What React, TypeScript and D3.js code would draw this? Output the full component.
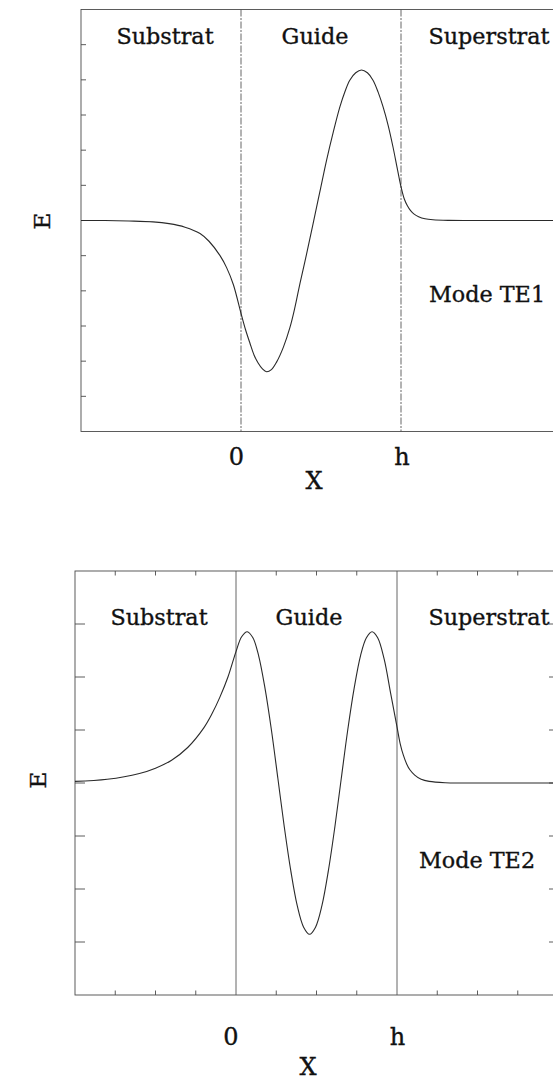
import React from "react";
import * as d3 from "d3";

// Field profile E(x) of the guided modes across substrate / guide / superstrate.
// x is expressed in units of the guide thickness h (0 = substrate interface, 1 = h).
const regionLabels = ["Substrat", "Guide", "Superstrat"];

const te1X = [
  -1, -0.85, -0.7, -0.55, -0.45, -0.35, -0.256, -0.2, -0.131, -0.09, -0.048, 0,
  0.028, 0.056, 0.082, 0.108, 0.134, 0.16, 0.19, 0.223, 0.265, 0.306, 0.337,
  0.368, 0.41, 0.451, 0.493, 0.535, 0.577, 0.618, 0.65, 0.68, 0.717, 0.753,
  0.79, 0.825, 0.857, 0.888, 0.92, 0.95, 0.975, 1.0, 1.02, 1.04, 1.06, 1.08,
  1.11, 1.15, 1.2, 1.3, 1.45, 2,
];
const te1E = [
  0, 0, -0.014, -0.04, -0.09, -0.19, -0.37, -0.59, -1.0, -1.34, -1.82, -2.64,
  -3.1, -3.49, -3.83, -4.06, -4.22, -4.3, -4.24, -4.02, -3.6, -3.04, -2.47,
  -1.8, -0.95, -0.08, 0.82, 1.72, 2.52, 3.23, 3.67, 3.99, 4.2, 4.28,
  4.2, 3.99, 3.65, 3.23, 2.7, 2.09, 1.52, 0.96, 0.62, 0.42, 0.28, 0.19,
  0.11, 0.05, 0.02, 0.003, 0, 0,
];

const te2X = [
  -1, -0.8, -0.6, -0.5, -0.4, -0.3, -0.2, -0.15, -0.1, -0.05, 0,
  0.035, 0.07, 0.105, 0.14, 0.18, 0.22, 0.26, 0.3, 0.34, 0.38, 0.42, 0.457,
  0.494, 0.534, 0.574, 0.614, 0.654, 0.694, 0.734, 0.774, 0.81, 0.845, 0.88,
  0.92, 0.96, 0.98, 1.0, 1.02, 1.04, 1.06, 1.08, 1.11, 1.15, 1.2, 1.3, 1.4, 2,
];
const te2E = [
  0.03, 0.07, 0.18, 0.28, 0.43, 0.67, 1.04, 1.3, 1.62, 2.0, 2.48,
  2.76, 2.855, 2.74, 2.41, 1.79, 1.0, 0.09, -0.83, -1.65, -2.31, -2.72, -2.855,
  -2.72, -2.31, -1.65, -0.83, 0.09, 1.0, 1.79, 2.41, 2.74, 2.855, 2.74,
  2.34, 1.7, 1.38, 1.06, 0.74, 0.52, 0.36, 0.25, 0.15, 0.07, 0.03, 0.005, 0, 0,
];

const yTicksTE1 = [-5, -4, -3, -2, -1, 0, 1, 2, 3, 4, 5];
const yTicksTE2 = [-3, -2, -1, 0, 1, 2, 3];
const xTicksTE2 = [-0.75, -0.5, -0.25, 0.25, 0.5, 0.75, 1.25, 1.5, 1.75];
const xTickLabels = ["0", "h"];

const FONT = "'DejaVu Serif', 'Liberation Serif', serif";
const INK = "#111";

type PanelProps = {
  id: string;
  xs: number[];
  es: number[];
  left: number;
  right: number;
  top: number;
  bottom: number;
  yMax: number;
  yTicks: number[];
  xTicks: number[];
  leftTick: number;
  rightTick: number;
  edgeTick: number;
  dashed: boolean;
  regionY: number;
  regionX: number[];
  mode: string;
  modeX: number;
  modeY: number;
  eLabelX: number;
  eLabelY: number;
  tickLabelX: number[];
  tickLabelY: number;
  xTitleX: number;
  xTitleY: number;
};

const labelStyle = {
  fontFamily: FONT,
  fill: INK,
  stroke: INK,
  strokeWidth: 0.35,
};

function Panel(p: PanelProps) {
  const x = d3.scaleLinear().domain([-1, 2]).range([p.left, p.right]);
  const y = d3.scaleLinear().domain([-p.yMax, p.yMax]).range([p.bottom, p.top]);
  const pts: [number, number][] = p.xs.map((v, i) => [v, p.es[i]]);
  const line = d3
    .line<[number, number]>()
    .x((d) => x(d[0]))
    .y((d) => y(d[1]))
    .curve(d3.curveCatmullRom.alpha(0.5));
  const frameColor = "#4a4a4a";
  const dash = p.dashed ? "7 1.5 2 1.5" : undefined;
  return (
    <g>
      <defs>
        <clipPath id={p.id}>
          <rect x={p.left} y={p.top} width={p.right - p.left} height={p.bottom - p.top} />
        </clipPath>
      </defs>
      {/* frame */}
      <rect
        x={p.left}
        y={p.top}
        width={p.right - p.left}
        height={p.bottom - p.top}
        fill="none"
        stroke={frameColor}
        strokeWidth={0.9}
      />
      {/* y ticks */}
      {p.yTicks.map((t) => (
        <g key={"y" + t}>
          <line x1={p.left} x2={p.left + p.leftTick} y1={y(t)} y2={y(t)} stroke={frameColor} strokeWidth={0.9} />
          {p.rightTick > 0 && (
            <line x1={p.right} x2={p.right - p.rightTick} y1={y(t)} y2={y(t)} stroke={frameColor} strokeWidth={0.9} />
          )}
        </g>
      ))}
      {/* x ticks along top and bottom edges */}
      {p.xTicks.map((t) => (
        <g key={"x" + t}>
          <line x1={x(t)} x2={x(t)} y1={p.bottom} y2={p.bottom - p.edgeTick} stroke={frameColor} strokeWidth={0.9} />
          <line x1={x(t)} x2={x(t)} y1={p.top} y2={p.top + p.edgeTick} stroke={frameColor} strokeWidth={0.9} />
        </g>
      ))}
      {/* interfaces at x = 0 and x = h */}
      {[0, 1].map((v) => (
        <line
          key={"v" + v}
          x1={x(v)}
          x2={x(v)}
          y1={p.top}
          y2={p.bottom}
          stroke="#555"
          strokeWidth={0.9}
          strokeDasharray={dash}
        />
      ))}
      {/* field profile */}
      <path d={line(pts) || ""} fill="none" stroke="#2a2a2a" strokeWidth={1.1} clipPath={`url(#${p.id})`} />
      {/* region names */}
      {regionLabels.map((r, i) => (
        <text key={r} x={p.regionX[i]} y={p.regionY} textAnchor="middle" fontSize={22.3} {...labelStyle}>
          {r}
        </text>
      ))}
      <text x={p.modeX} y={p.modeY} textAnchor="middle" fontSize={22.3} {...labelStyle}>
        {p.mode}
      </text>
      <text
        x={p.eLabelX}
        y={p.eLabelY}
        textAnchor="middle"
        dominantBaseline="central"
        transform={`rotate(-90 ${p.eLabelX} ${p.eLabelY})`}
        fontSize={23}
        {...labelStyle}
      >
        E
      </text>
      {xTickLabels.map((l, i) => (
        <text key={l} x={p.tickLabelX[i]} y={p.tickLabelY} textAnchor="middle" fontSize={24} {...labelStyle}>
          {l}
        </text>
      ))}
      <text x={p.xTitleX} y={p.xTitleY} textAnchor="middle" fontSize={24} {...labelStyle}>
        X
      </text>
    </g>
  );
}

export default function App() {
  return (
    <svg
      width={553}
      height={1081}
      viewBox="0 0 553 1081"
      style={{ position: "absolute", left: 0, top: 0, background: "#fff" }}
    >
      <rect x={0} y={0} width={553} height={1081} fill="#fff" />
      <Panel
        id="clip-te1"
        xs={te1X}
        es={te1E}
        left={81}
        right={561}
        top={9.5}
        bottom={431.5}
        yMax={6}
        yTicks={yTicksTE1}
        xTicks={[]}
        leftTick={5}
        rightTick={0}
        edgeTick={0}
        dashed={true}
        regionY={44}
        regionX={[165, 315, 489]}
        mode="Mode TE1"
        modeX={487}
        modeY={302}
        eLabelX={42}
        eLabelY={221}
        tickLabelX={[236.5, 402]}
        tickLabelY={465}
        xTitleX={314}
        xTitleY={489}
      />
      <Panel
        id="clip-te2"
        xs={te2X}
        es={te2E}
        left={75}
        right={558}
        top={571}
        bottom={995}
        yMax={4}
        yTicks={yTicksTE2}
        xTicks={xTicksTE2}
        leftTick={10}
        rightTick={9}
        edgeTick={4.5}
        dashed={false}
        regionY={625}
        regionX={[159, 309, 489]}
        mode="Mode TE2"
        modeX={477}
        modeY={868}
        eLabelX={38}
        eLabelY={780}
        tickLabelX={[231, 397.5]}
        tickLabelY={1045}
        xTitleX={308}
        xTitleY={1075}
      />
    </svg>
  );
}
